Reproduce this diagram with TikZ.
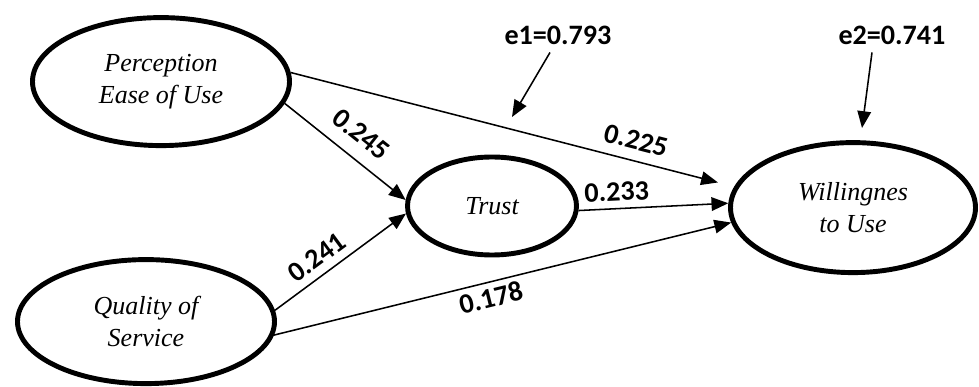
\documentclass[tikz,border=0pt]{standalone}
\usepackage{fontspec}
\setmainfont{Liberation Serif}
\newfontfamily\numfont{Carlito}
\usetikzlibrary{shapes,arrows.meta,positioning,calc}

\begin{document}
\begin{tikzpicture}[
      var/.style={draw, ellipse, line width=3.5pt, inner sep=0pt, align=center, font=\fontsize{18.5}{23}\selectfont\itshape},
      arr/.style={-{Triangle[length=0.42cm, width=0.34cm]}, line width=1.1pt},
      coef/.style={font=\fontsize{20}{24}\selectfont\numfont\bfseries, inner sep=1pt, sloped},
      err/.style={font=\fontsize{20}{24}\selectfont\numfont\bfseries}
    ]
    \useasboundingbox (0,0) rectangle (24.475,-9.675);
    \node[var, minimum width=6.425cm, minimum height=3.2cm] (peu) at (4.025,-2.04) {Perception\\Ease of Use};
    \node[var, minimum width=4.225cm, minimum height=2.45cm] (trust) at (12.3,-5.15) {Trust};
    \node[var, minimum width=6.125cm, minimum height=3.25cm] (will) at (21.325,-5.19) {Willingnes\\to Use};
    \node[var, minimum width=6.425cm, minimum height=3.1cm] (qos) at (3.65,-8.04) {Quality of\\Service};
    \node[err] (e1) at (13.95,-0.89) {e1=0.793};
    \node[err] (e2) at (22.3,-0.89) {e2=0.741};
    \coordinate (e1end) at (12.8,-2.925);
    \coordinate (e2end) at (21.55,-3.2);
    % paths
    \draw[arr] (peu.-10) -- node[coef, above=8.5pt, pos=0.51] {0.245} (trust.176);
    \draw[arr, shorten >=0.42cm] (peu.4) -- node[coef, above=6.3pt, pos=0.767] {0.225} (will.170);
    \draw[arr] (trust.-3) -- node[coef, above=3.7pt, pos=0.26] {0.233} (will.178);
    \draw[arr] (qos.5) -- node[coef, above=4.4pt, pos=0.40] {0.241} (trust.185);
    \draw[arr] (qos.-6) -- node[coef, below=2.7pt, pos=0.466] {0.178} (will.187);
    % errors
    \draw[arr] ([xshift=-0.2cm,yshift=-0.065cm]e1.south) -- (e1end);
    \draw[arr] ([xshift=-0.5cm,yshift=-0.065cm]e2.south) -- (e2end);
  \end{tikzpicture}
\end{document}
